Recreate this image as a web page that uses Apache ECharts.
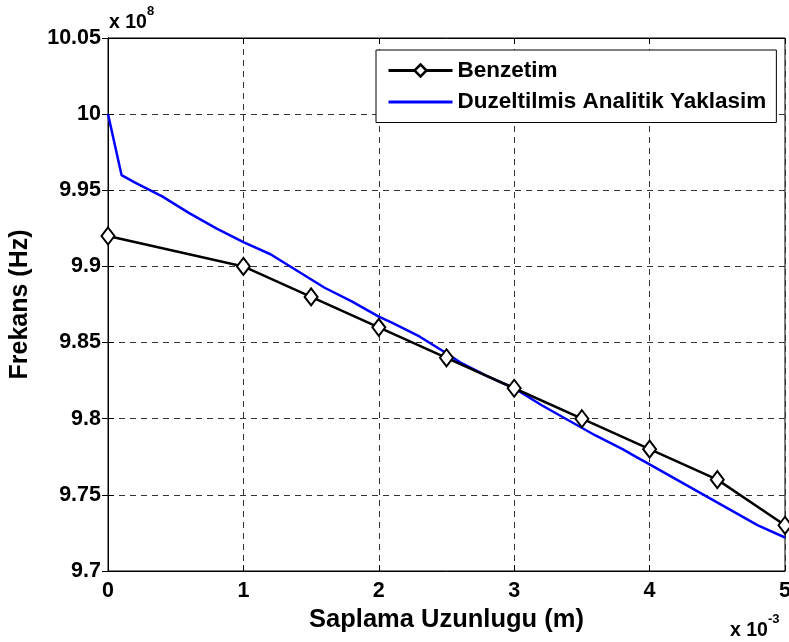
<!DOCTYPE html>
<html>
<head>
<meta charset="utf-8">
<script src="https://cdn.jsdelivr.net/npm/echarts@6/dist/echarts.min.js"></script>
<style>
  html, body { margin: 0; padding: 0; background: #fff; }
  #main { width: 789px; height: 642px; }
</style>
</head>
<body>
<div id="main"></div>
<script>
// x in units of 1e-3 m, y in units of 1e8 Hz
var benzetimX = [0, 1, 1.5, 2, 2.5, 3, 3.5, 4, 4.5, 5];
var benzetimY = [9.92, 9.90, 9.88, 9.86, 9.84, 9.82, 9.80, 9.78, 9.76, 9.73];

var analitikX = [0, 0.1, 0.2, 0.4, 0.6, 0.8, 1.0, 1.2, 1.4, 1.6, 1.8, 2.0, 2.1, 2.3, 2.5, 2.6, 2.8, 3.0,
                 3.2, 3.4, 3.6, 3.8, 3.9, 4.0, 4.2, 4.4, 4.6, 4.8, 5.0];
var analitikY = [10.0, 9.960, 9.955, 9.946, 9.935, 9.925, 9.916, 9.908, 9.897, 9.886, 9.877, 9.867, 9.863, 9.854, 9.843, 9.837, 9.828, 9.820,
                 9.809, 9.799, 9.789, 9.780, 9.775, 9.770, 9.760, 9.750, 9.740, 9.730, 9.722];

var seriesNames = ['Benzetim', 'Duzeltilmis Analitik Yaklasim'];

function pairs(xs, ys){
	var out = [];
	for (var i = 0; i < xs.length; i++) out.push([xs[i], ys[i]]);
	return out;
}

var font = 'Arial, "Liberation Sans", Helvetica, sans-serif';
var chart = echarts.init(document.getElementById('main'));

var gridDash = { color: '#333', type: [6, 5], width: 1 };
var exponentRich = {
	b: { fontFamily: font, fontWeight: 'bold', fontSize: 19.5, fill: '#000', padding: [8, 0, 0, 0] },
	s: { fontFamily: font, fontWeight: 'bold', fontSize: 13, fill: '#000', verticalAlign: 'top' }
};

var option = {
	animation: false,
	textStyle: { fontFamily: font },
	grid: {
		left: 108, right: 4, top: 38, bottom: 71,
		outerBoundsMode: 'none',
		show: true, borderColor: '#000', borderWidth: 1
	},
	legend: {
		orient: 'vertical',
		left: 376, top: 50,
		backgroundColor: '#fff',
		borderColor: '#000', borderWidth: 1,
		padding: [9, 10, 9, 11],
		itemGap: 8.5,
		itemWidth: 64, itemHeight: 15,
		textStyle: { fontFamily: font, fontWeight: 'bold', fontSize: 22.5, color: '#000' },
		data: [
			{ name: seriesNames[0], lineStyle: { width: 3 }, itemStyle: { borderWidth: 2.5 } },
			{ name: seriesNames[1], lineStyle: { width: 3 }, itemStyle: { opacity: 0 } }
		]
	},
	xAxis: [{
		type: 'value', min: 0, max: 5, interval: 1,
		name: 'Saplama Uzunlugu (m)', nameLocation: 'middle', nameGap: 34,
		nameTextStyle: { fontFamily: font, fontWeight: 'bold', fontSize: 25.5, color: '#000' },
		axisLine: { show: true, lineStyle: { color: '#000', width: 1 } },
		axisTick: { inside: true, length: 6, lineStyle: { color: '#000' } },
		axisLabel: { fontFamily: font, fontWeight: 'bold', fontSize: 21.5, color: '#000', margin: 9 },
		splitLine: { show: true, lineStyle: gridDash }
	}, {
		type: 'value', min: 0, max: 5, interval: 1, position: 'top',
		axisLine: { show: true, lineStyle: { color: '#000' } },
		axisTick: { inside: true, length: 6, lineStyle: { color: '#000' } },
		axisLabel: { show: false }, splitLine: { show: false }
	}],
	yAxis: [{
		type: 'value', min: 9.7, max: 10.05, interval: 0.05,
		name: 'Frekans (Hz)', nameLocation: 'middle', nameGap: 75,
		nameTextStyle: { fontFamily: font, fontWeight: 'bold', fontSize: 25, color: '#000' },
		axisLine: { show: true, lineStyle: { color: '#000', width: 1 } },
		axisTick: { inside: true, length: 6, lineStyle: { color: '#000' } },
		axisLabel: {
			fontFamily: font, fontWeight: 'bold', fontSize: 21.5, color: '#000', margin: 7,
			formatter: function(v){ return String(parseFloat(v.toFixed(2))); }
		},
		splitLine: { show: true, lineStyle: gridDash }
	}, {
		type: 'value', min: 9.7, max: 10.05, interval: 0.05, position: 'right',
		axisLine: { show: true, lineStyle: { color: '#000' } },
		axisTick: { inside: true, length: 6, lineStyle: { color: '#000' } },
		axisLabel: { show: false }, splitLine: { show: false }
	}],
	graphic: [{
		type: 'text', left: 109, top: 5,
		style: { text: '{b|x 10}{s|8}', rich: exponentRich }
	}, {
		type: 'text', left: 730, top: 613,
		style: { text: '{b|x 10}{s|-3}', rich: exponentRich }
	}],
	series: [{
		name: seriesNames[0],
		type: 'line',
		data: pairs(benzetimX, benzetimY),
		color: '#000',
		lineStyle: { color: '#000', width: 2.5 },
		symbol: 'diamond',
		symbolSize: [13, 17],
		itemStyle: { color: '#fff', borderColor: '#000', borderWidth: 2 },
		z: 3
	}, {
		name: seriesNames[1],
		type: 'line',
		data: pairs(analitikX, analitikY),
		color: '#0000ff',
		lineStyle: { color: '#0000ff', width: 2.5 },
		showSymbol: false,
		symbol: 'circle',
		z: 2
	}]
};

chart.setOption(option);
</script>
</body>
</html>
